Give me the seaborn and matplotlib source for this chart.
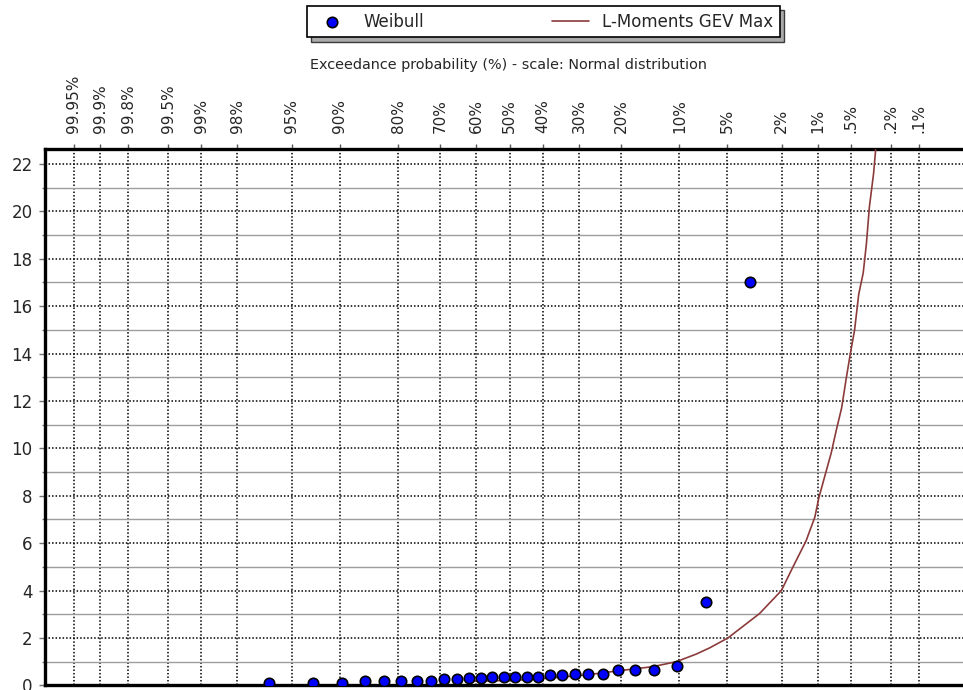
import numpy as np
import pandas as pd
import matplotlib
matplotlib.use("Agg")
import matplotlib.pyplot as plt
import seaborn as sns
from statistics import NormalDist
from matplotlib.ticker import FixedLocator, FixedFormatter, MultipleLocator, NullLocator

# Observed sample: Weibull plotting positions (exceedance %) and values
weibull_exceedance = [96.55, 93.10, 89.66, 86.21, 82.76, 79.31, 75.86, 72.41, 68.97,
                      65.52, 62.07, 58.62, 55.17, 51.72, 48.28, 44.83, 41.38, 37.93,
                      34.48, 31.03, 27.59, 24.14, 20.69, 17.24, 13.79, 10.34, 6.90, 3.45]
weibull_values = [0.10, 0.10, 0.10, 0.20, 0.20, 0.20, 0.20, 0.20, 0.27,
                  0.27, 0.30, 0.33, 0.34, 0.34, 0.34, 0.34, 0.34, 0.43,
                  0.45, 0.50, 0.50, 0.50, 0.65, 0.65, 0.65, 0.80, 3.50, 17.00]

# Fitted GEV (L-moments) curve
gev_exceedance = [62.0, 50.0, 42.1, 28.2, 20.4, 14.0, 10.4, 7.95, 6.56, 4.97, 2.96,
                  2.01, 1.62, 1.26, 1.06, 0.98, 0.87, 0.76, 0.68, 0.61, 0.55, 0.505,
                  0.46, 0.42, 0.38, 0.354, 0.33, 0.30, 0.286]
gev_values = [0.17, 0.21, 0.26, 0.44, 0.62, 0.79, 1.00, 1.32, 1.58, 2.00, 3.03,
              4.00, 5.00, 6.10, 7.10, 7.90, 8.80, 9.80, 10.80, 11.70, 13.00, 14.00,
              15.00, 16.50, 17.40, 18.60, 20.20, 21.60, 22.60]

# Probability-paper tick marks
prob_ticks = [99.95, 99.9, 99.8, 99.5, 99, 98, 95, 90, 80, 70, 60, 50, 40, 30,
              20, 10, 5, 2, 1, 0.5, 0.2, 0.1]
prob_labels = ["99.95%", "99.9%", "99.8%", "99.5%", "99%", "98%", "95%", "90%",
               "80%", "70%", "60%", "50%", "40%", "30%", "20%", "10%", "5%",
               "2%", "1%", ".5%", ".2%", ".1%"]

obs = pd.DataFrame({"exceedance": weibull_exceedance, "value": weibull_values})
fit = pd.DataFrame({"exceedance": gev_exceedance, "value": gev_values})

_nd = NormalDist()


def prob_to_quantile(p):
    # percent -> standard normal quantile (monotonically increasing)
    p = np.clip(np.asarray(p, dtype=float), 1e-7, 100 - 1e-7)
    return np.vectorize(lambda v: _nd.inv_cdf(v / 100.0), otypes=[float])(p)


def quantile_to_prob(z):
    z = np.asarray(z, dtype=float)
    return np.vectorize(lambda v: 100.0 * _nd.cdf(v), otypes=[float])(z)


sns.set_style("white")
plt.rcParams["font.family"] = ["DejaVu Sans"]

fig = plt.figure(figsize=(9.63, 6.90), dpi=100)
ax = fig.add_axes([45 / 963, 4.6 / 690, (963 - 45) / 963, (685.4 - 149.3) / 690])

sns.lineplot(data=fit, x="exceedance", y="value", ax=ax, color="#8c3b3b",
             linewidth=1.2, sort=False, estimator=None, label="L-Moments GEV Max",
             zorder=3, legend=False)
sns.scatterplot(data=obs, x="exceedance", y="value", ax=ax, color="#0000ff",
                edgecolor="black", linewidth=1.2, s=56, label="Weibull",
                zorder=4, legend=False)

ax.set_xscale("function", functions=(prob_to_quantile, quantile_to_prob))
# high exceedance on the left, rare events on the right
ax.set_xlim(99.9773, 0.031)
ax.set_ylim(0, 22.62)

ax.xaxis.set_major_locator(FixedLocator(prob_ticks))
ax.xaxis.set_major_formatter(FixedFormatter(prob_labels))
ax.xaxis.set_minor_locator(NullLocator())
ax.yaxis.set_major_locator(MultipleLocator(2))
ax.yaxis.set_minor_locator(MultipleLocator(1))

ax.set_xlabel("")
ax.set_ylabel("")

ax.grid(which="major", axis="both", color="black", linestyle=(0, (1, 1.3)),
        linewidth=1.1, zorder=1)
ax.grid(which="minor", axis="y", color="0.62", linestyle="-", linewidth=1.0, zorder=1)
ax.set_axisbelow(True)

ax.xaxis.tick_top()
ax.tick_params(axis="x", which="major", top=True, bottom=False, labeltop=True,
               labelbottom=False, direction="out", length=3.5, width=1,
               color="0.35", labelsize=11, labelrotation=90, pad=8)
ax.tick_params(axis="y", which="major", left=True, direction="out", length=4,
               width=1, color="0.45", labelsize=12, pad=5)
ax.tick_params(axis="y", which="minor", left=True, direction="out", length=2,
               width=1, color="0.45")

for side in ("left", "top", "bottom"):
    ax.spines[side].set_visible(True)
    ax.spines[side].set_color("black")
    ax.spines[side].set_linewidth(2.4)
ax.spines["right"].set_visible(False)

fig.text(508 / 963, 1 - 65 / 690,
         "Exceedance probability (%) - scale: Normal distribution",
         ha="center", va="center", fontsize=10.4)

handles, labels = ax.get_legend_handles_labels()
order = [labels.index("Weibull"), labels.index("L-Moments GEV Max")]
leg = fig.legend([handles[i] for i in order], [labels[i] for i in order],
                 loc="upper left", bbox_to_anchor=(307 / 963, 1 - 38 / 690, 473 / 963, 32 / 690),
                 bbox_transform=fig.transFigure, mode="expand", ncol=2,
                 frameon=True, fancybox=False, edgecolor="black",
                 shadow={"ox": 3, "oy": -3, "shade": 0.35, "alpha": 0.95,
                         "edgecolor": "0.2", "linewidth": 1.0},
                 fontsize=12, handlelength=2.2, handletextpad=0.8, borderpad=0.4,
                 borderaxespad=0, framealpha=1)
leg.get_frame().set_linewidth(1.2)

fig.savefig("out.png", dpi=100)
